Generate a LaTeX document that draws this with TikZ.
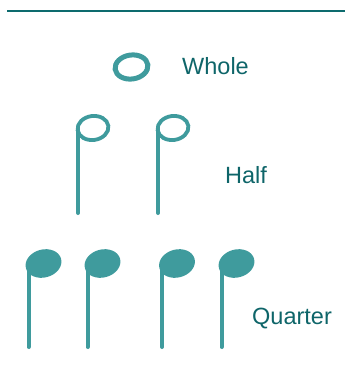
\documentclass[tikz,border=0pt]{standalone}
\usepackage{fontspec}
\setmainfont{Liberation Sans}
\definecolor{noteteal}{HTML}{3F9B9D}
\definecolor{textteal}{HTML}{0E6569}
\definecolor{lineteal}{HTML}{0D6B6E}
\tikzset{
  lbl/.style={anchor=base west, inner sep=0pt, text=textteal, font=\fontsize{23.5}{28}\selectfont},
  qhead/.style={fill=noteteal, rotate=15},
  hhead/.style={draw=noteteal, line width=3.8pt, rotate=8},
  whead/.style={draw=noteteal, line width=5pt, rotate=8},
  stem/.style={draw=noteteal, line width=4pt, line cap=round},
  rule/.style={draw=lineteal, line width=2.4pt}
}
\begin{document}
\begin{tikzpicture}[x=1pt,y=-1pt]
\useasboundingbox (0,0) rectangle (345,383);
% top rule
\coordinate (rl) at (7,11);
\coordinate (rr) at (345,11);
\draw[rule] (rl) -- (rr);
% whole
\coordinate (w) at (131.5,67);
\draw[whead, shift={(w)}] (0,0) ellipse [x radius=16.5, y radius=12];
\node[lbl] (tw) at (182,74) {Whole};
% halves
\coordinate (h1) at (93,128);
\coordinate (h2) at (173,128);
\draw[hhead, shift={(h1)}] (0,0) ellipse [x radius=15.5, y radius=12];
\draw[hhead, shift={(h2)}] (0,0) ellipse [x radius=15.5, y radius=12];
\coordinate (h1t) at (78,129);
\coordinate (h1b) at (78,213);
\coordinate (h2t) at (158,129);
\coordinate (h2b) at (158,213);
\draw[stem] (h1t) -- (h1b);
\draw[stem] (h2t) -- (h2b);
\node[lbl] (th) at (225,183) {Half};
% quarters
\coordinate (q1) at (43.5,263.5);
\coordinate (q2) at (102.5,263.5);
\coordinate (q3) at (177,263.5);
\coordinate (q4) at (236.5,263.5);
\foreach \q in {q1,q2,q3,q4}
  \fill[qhead, shift={(\q)}] (0,0) ellipse [x radius=18.2, y radius=14];
\coordinate (q1t) at (28.5,264);
\coordinate (q1b) at (28.5,347);
\coordinate (q2t) at (87.5,264);
\coordinate (q2b) at (87.5,347);
\coordinate (q3t) at (162,264);
\coordinate (q3b) at (162,347);
\coordinate (q4t) at (221.5,264);
\coordinate (q4b) at (221.5,347);
\draw[stem] (q1t) -- (q1b);
\draw[stem] (q2t) -- (q2b);
\draw[stem] (q3t) -- (q3b);
\draw[stem] (q4t) -- (q4b);
\node[lbl] (tq) at (252,324) {Quarter};
\end{tikzpicture}
\end{document}
